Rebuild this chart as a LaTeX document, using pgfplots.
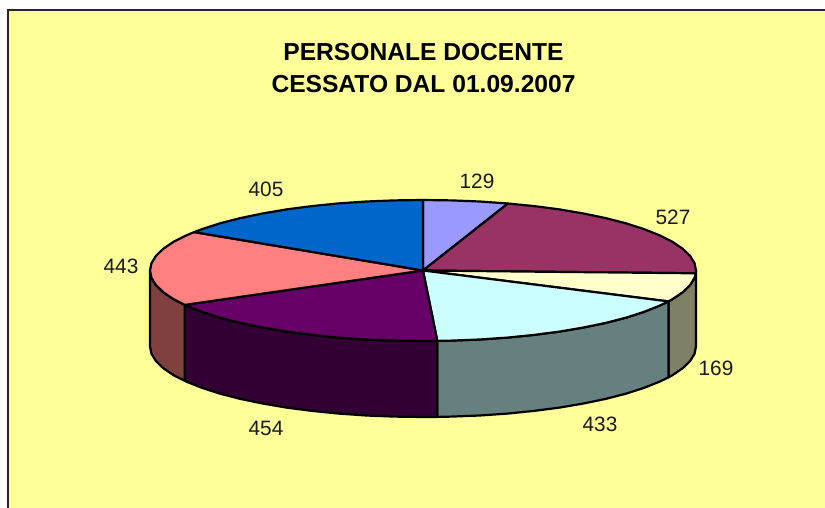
\documentclass[border=0pt]{standalone}
\usepackage{fontspec}
\setmainfont{Liberation Sans}
\usepackage{pgfplots}
\pgfplotsset{compat=1.18}

\definecolor{bgyellow}{HTML}{FFFF99}

\pgfplotsset{slice/.style={draw=black, line width=2.2pt, line join=round, mark=none}}

\begin{document}
\begin{tikzpicture}
\begin{axis}[
    width=825pt, height=508pt, scale only axis,
    xmin=0, xmax=825, ymin=0, ymax=508,
    y dir=reverse,
    hide axis,
    clip=true,
]
% white page, keeps the full 825x508 box
\addplot[fill=white, draw=none, mark=none] coordinates {(0,0) (825,0) (825,508) (0,508)} -- cycle;
% background and frame (only left and top edges show)
\addplot[fill=bgyellow, draw=none, mark=none] coordinates {(8,10) (826,10) (826,509) (8,509)} -- cycle;
\addplot[draw=black!85, line width=1.6pt, mark=none] coordinates {(8,509) (8,10) (826,10)};

% sides
\addplot[slice, fill={rgb,255:red,128;green,128;blue,102}] coordinates {(696,270.5) (694.5,277.9) (690,285.2) (682.6,292.3) (672.4,299.2) (668.4,301.4)
    (668.4,377.4) (672.4,375.2) (682.6,368.3) (690,361.2) (694.5,353.9) (696,346.5)} -- cycle;
\addplot[slice, fill={rgb,255:red,102;green,128;blue,128}] coordinates {(668.4,301.4) (659.4,305.75) (643.9,311.9) (625.9,317.7) (605.7,322.9) (583.5,327.5) (559.5,331.6) (534,334.9) (507.4,337.6) (479.8,339.5) (451.5,340.6) (437.3,340.9)
    (437.3,416.9) (451.5,416.6) (479.8,415.5) (507.4,413.6) (534,410.9) (559.5,407.6) (583.5,403.5) (605.7,398.9) (625.9,393.7) (643.9,387.9) (659.4,381.75) (668.4,377.4)} -- cycle;
\addplot[slice, fill={rgb,255:red,51;green,0;blue,51}] coordinates {(437.3,340.9) (423,341) (394.5,340.6) (366.2,339.5) (338.6,337.6) (312,334.9) (286.5,331.6) (262.5,327.5) (240.3,322.9) (220.1,317.7) (202.1,311.9) (186.6,305.75) (184.8,304.9)
    (184.8,380.9) (186.6,381.75) (202.1,387.9) (220.1,393.7) (240.3,398.9) (262.5,403.5) (286.5,407.6) (312,410.9) (338.6,413.6) (366.2,415.5) (394.5,416.6) (423,417) (437.3,416.9)} -- cycle;
\addplot[slice, fill={rgb,255:red,128;green,64;blue,64}] coordinates {(184.8,304.9) (173.6,299.2) (163.4,292.3) (156,285.2) (151.5,277.9) (150,270.5)
    (150,346.5) (151.5,353.9) (156,361.2) (163.4,368.3) (173.6,375.2) (184.8,380.9)} -- cycle;

% top faces, one per value, clockwise from 12 o'clock
% 129
\addplot[slice, fill={rgb,255:red,153;green,153;blue,255}] coordinates {(423,270.5) (423,200) (451.5,200.4) (479.8,201.5) (508,203.5)} -- cycle;
% 527
\addplot[slice, fill={rgb,255:red,153;green,51;blue,102}] coordinates {(423,270.5) (508,203.5) (534,206.1) (559.5,209.4) (583.5,213.5) (605.7,218.1) (625.9,223.3) (643.9,229.1) (659.4,235.25) (672.4,241.8) (682.6,248.7) (690,255.8) (694.5,263.1) (696,270.5) (695.8,273.3)} -- cycle;
% 169
\addplot[slice, fill={rgb,255:red,255;green,255;blue,204}] coordinates {(423,270.5) (695.8,273.3) (694.5,277.9) (690,285.2) (682.6,292.3) (672.4,299.2) (668.4,301.4)} -- cycle;
% 433
\addplot[slice, fill={rgb,255:red,204;green,255;blue,255}] coordinates {(423,270.5) (668.4,301.4) (659.4,305.75) (643.9,311.9) (625.9,317.7) (605.7,322.9) (583.5,327.5) (559.5,331.6) (534,334.9) (507.4,337.6) (479.8,339.5) (451.5,340.6) (437.3,340.9)} -- cycle;
% 454
\addplot[slice, fill={rgb,255:red,102;green,0;blue,102}] coordinates {(423,270.5) (437.3,340.9) (423,341) (394.5,340.6) (366.2,339.5) (338.6,337.6) (312,334.9) (286.5,331.6) (262.5,327.5) (240.3,322.9) (220.1,317.7) (202.1,311.9) (186.6,305.75) (184.8,304.9)} -- cycle;
% 443
\addplot[slice, fill={rgb,255:red,255;green,128;blue,128}] coordinates {(423,270.5) (184.8,304.9) (173.6,299.2) (163.4,292.3) (156,285.2) (151.5,277.9) (150,270.5) (151.5,263.1) (156,255.8) (163.4,248.7) (173.6,241.8) (186.6,235.25) (194.2,232.1)} -- cycle;
% 405
\addplot[slice, fill={rgb,255:red,0;green,102;blue,204}] coordinates {(423,270.5) (194.2,232.1) (202.1,229.1) (220.1,223.3) (240.3,218.1) (262.5,213.5) (286.5,209.4) (312,206.1) (338.6,203.4) (366.2,201.5) (394.5,200.4) (423,200)} -- cycle;

% value labels
\addplot[only marks, mark=none, nodes near coords, point meta=explicit symbolic,
    every node near coord/.style={anchor=center, font=\fontsize{20.8}{24}\selectfont, text=black!90}]
    table[meta=label] {
    x y label
    477 181 129
    673 217 527
    716 368 169
    600 424 433
    266 428 454
    121 266 443
    266 189 405
};

\node[align=center, font=\fontsize{24.6}{32}\bfseries\selectfont, text=black] at (axis cs:423.5,68) {PERSONALE DOCENTE\\CESSATO DAL 01.09.2007};
\end{axis}
\end{tikzpicture}
\end{document}
